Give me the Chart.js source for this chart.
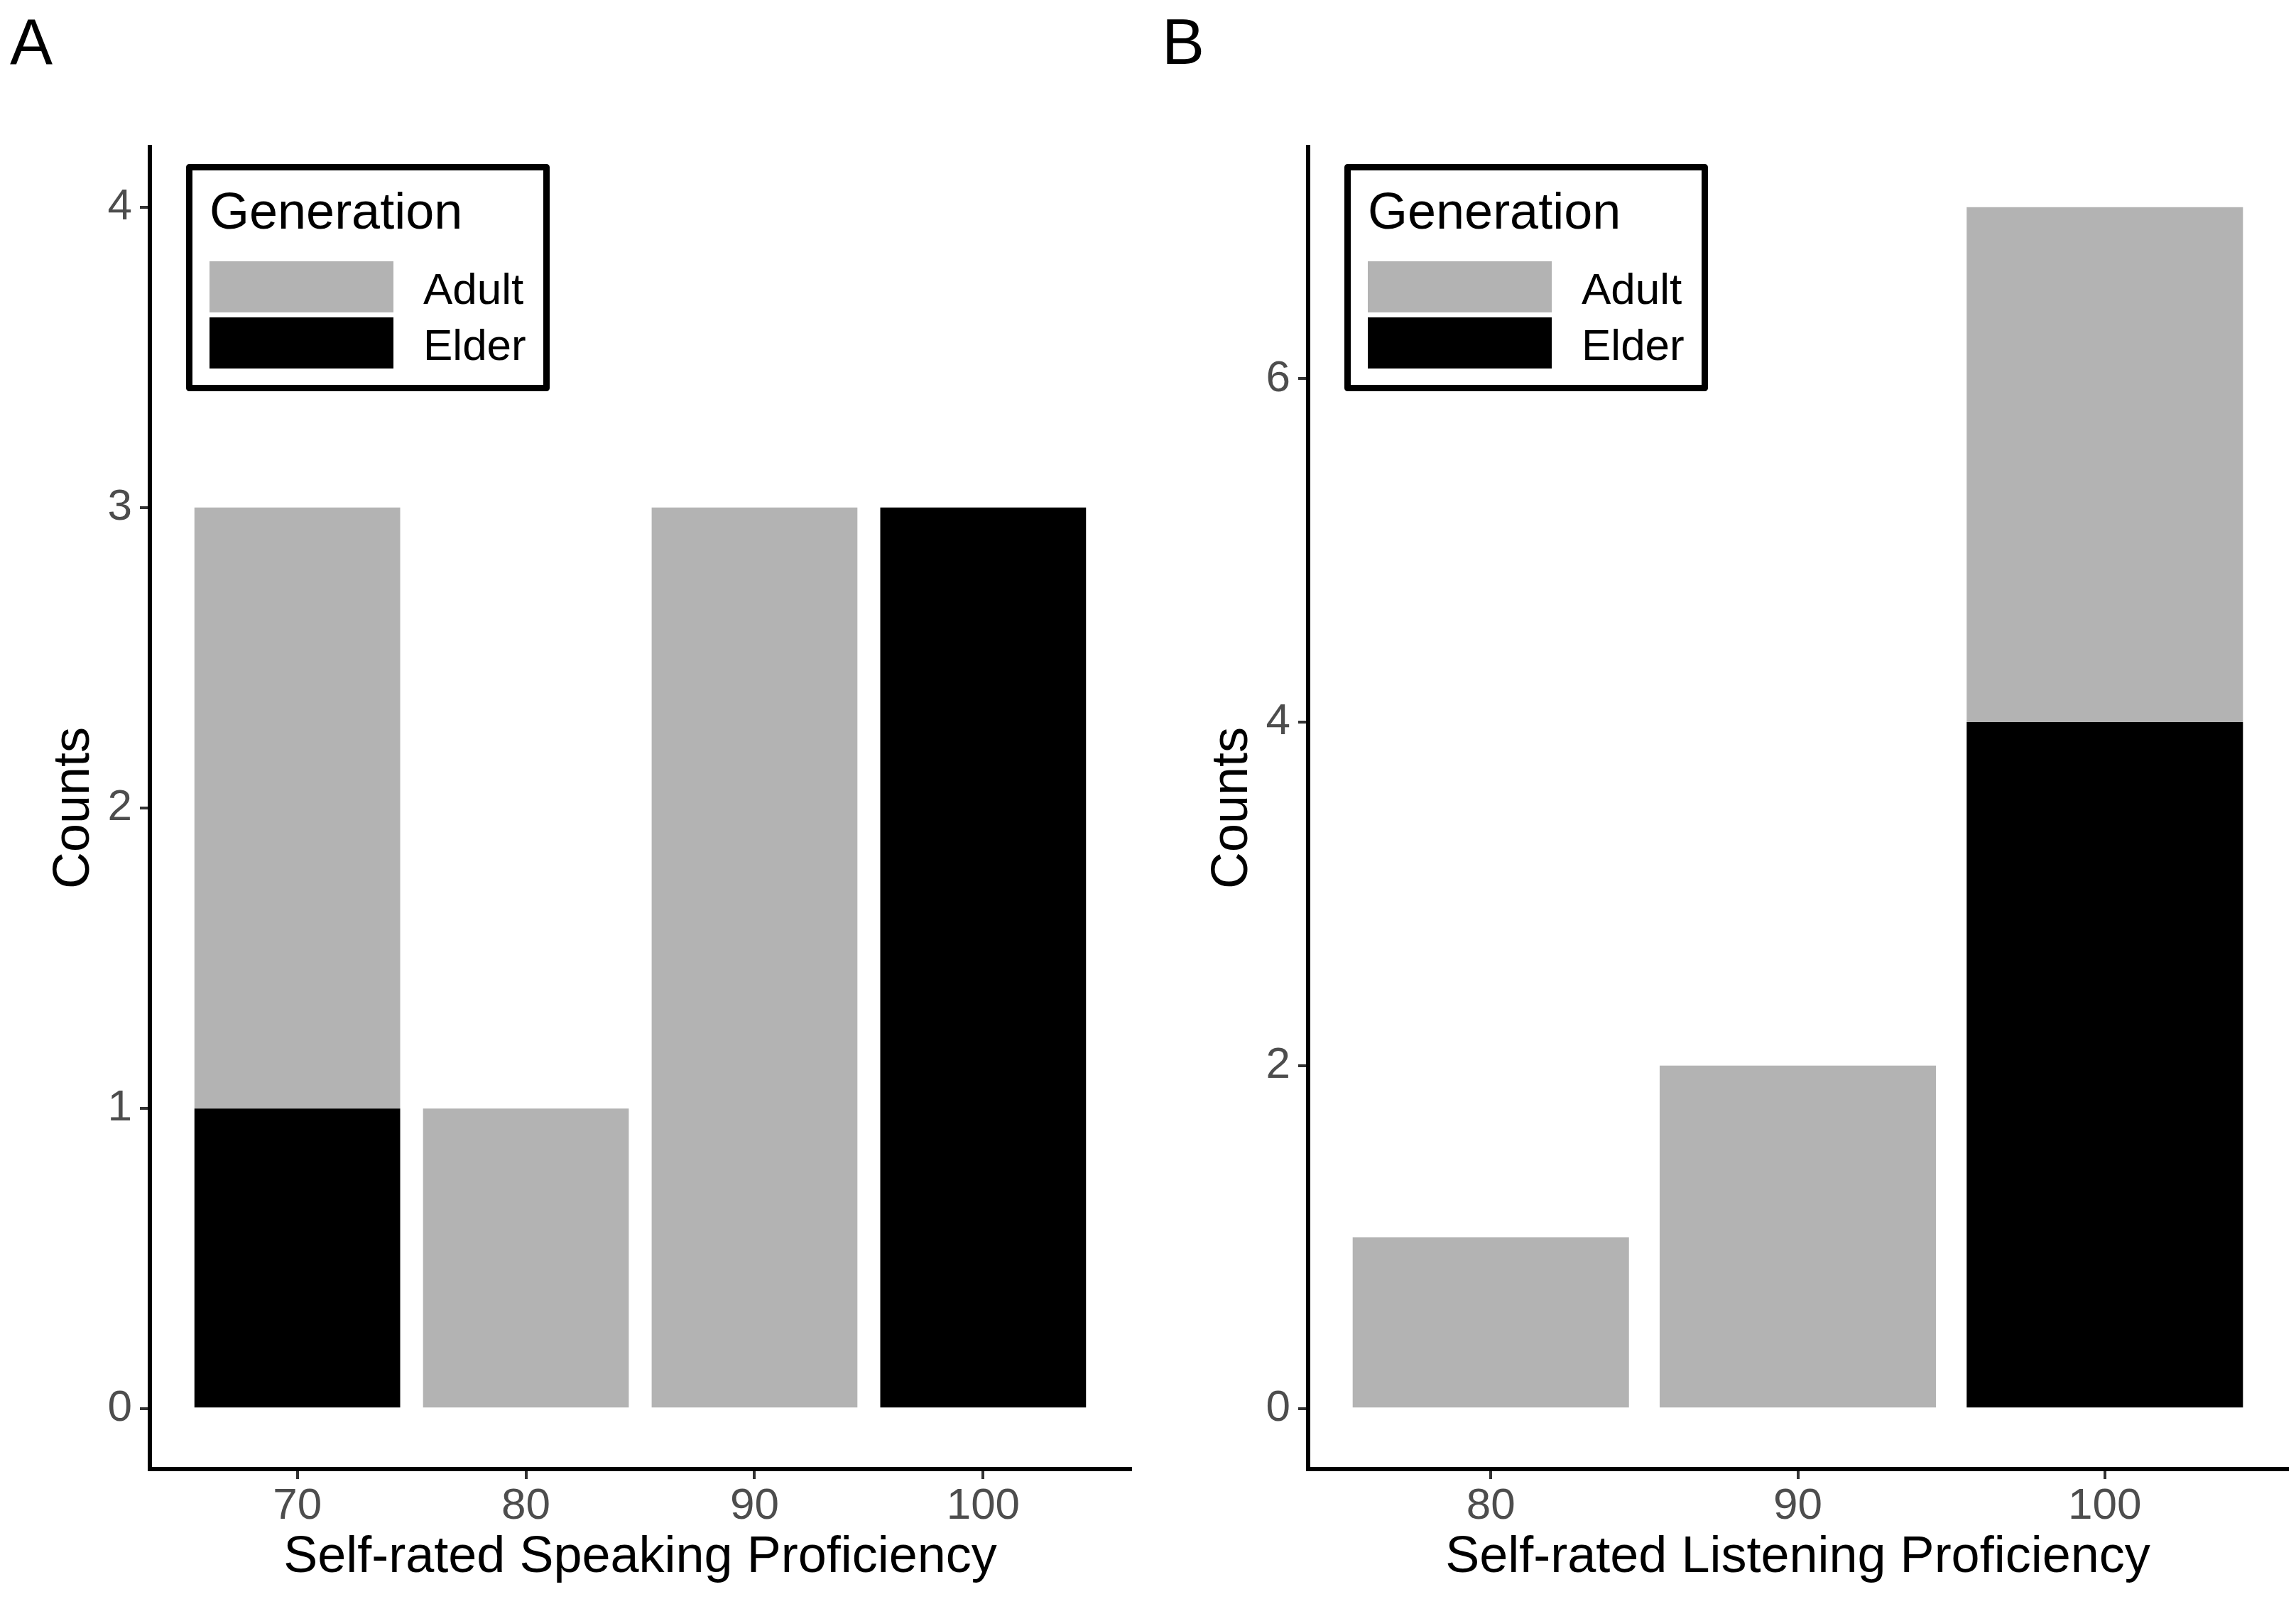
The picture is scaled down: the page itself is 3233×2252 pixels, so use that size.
<!DOCTYPE html>
<html>
<head>
<meta charset="utf-8">
<script src="https://cdn.jsdelivr.net/npm/chart.js@4.4.1/dist/chart.umd.min.js"></script>
<style>
  html, body { margin: 0; padding: 0; background: #fff; }
  body { width: 3233px; height: 2252px; position: relative; overflow: hidden; }
  canvas { position: absolute; top: 0; }
  #panelA { left: 0; }
  #panelB { left: 1631px; }
</style>
</head>
<body>
<canvas id="panelA" width="1616" height="2252"></canvas>
<canvas id="panelB" width="1602" height="2252"></canvas>
<script>
/* ~~~~~~~~~~ DATA ~~~~~~~~~~*/

const generations = ['Adult', 'Elder'];

// panel A
const speakingScores = [70, 80, 90, 100];
const speakingAdult = [2, 1, 3, null];
const speakingElder = [1, null, null, 3];
const speakingTicks = [0, 1, 2, 3, 4];
const speakingLimits = [0, 4];

// panel B
const listeningScores = [80, 90, 100];
const listeningAdult = [1, 2, 3];
const listeningElder = [null, null, 4];
const listeningTicks = [0, 2, 4, 6];
const listeningLimits = [0, 7];

/* ~~~~~~~~~~ STYLE ~~~~~~~~~~*/

const FONT = '"Liberation Sans", Arial, Helvetica, sans-serif';
const adultGrey = '#B3B3B3';
const elderBlack = '#000000';

Chart.defaults.font.family = FONT;

// legend box + panel letter, drawn inside the plot like ggplot's legend.position
const panelDecor = {
  id: 'panelDecor',
  afterDraw(chart, args, o) {
    const { ctx, chartArea } = chart;
    ctx.save();
    ctx.textAlign = 'left';
    ctx.textBaseline = 'alphabetic';

    ctx.fillStyle = '#000';
    ctx.font = '90px ' + FONT;
    ctx.fillText(o.tag, o.tagX, 90);

    const bx = chartArea.left + 51;
    const by = chartArea.top + 24;
    const bw = 512, bh = 320, lw = 9;
    ctx.fillStyle = '#fff';
    ctx.fillRect(bx, by, bw, bh);
    ctx.strokeStyle = '#000';
    ctx.lineWidth = lw;
    ctx.lineJoin = 'round';
    ctx.strokeRect(bx + lw / 2, by + lw / 2, bw - lw, bh - lw);

    ctx.fillStyle = '#000';
    ctx.font = '72px ' + FONT;
    ctx.fillText(o.title, bx + 33, by + 91);

    // legend lists Adult then Elder (reverse of stacking order)
    const items = chart.data.datasets.slice().reverse();
    items.forEach((ds, i) => {
      const ky = by + 137 + i * 79;
      ctx.fillStyle = ds.backgroundColor;
      ctx.fillRect(bx + 33, ky, 259, 72);
      ctx.fillStyle = '#000';
      ctx.font = '62px ' + FONT;
      ctx.fillText(ds.label, bx + 334, ky + 59.5);
    });
    ctx.restore();
  }
};

/* ~~~~~~~~~~ CHART FUNCTIONS ~~~~~~~~~~*/

const toPoints = (xs, ys) =>
  xs.map((x, i) => ({ x: x, y: ys[i] })).filter(p => p.y !== null);

function makePanel(canvasId, cfg) {
  // ggplot-style continuous expansion: bars are 9 wide, 5% padding on each side
  const lo = Math.min(...cfg.scores) - 4.5;
  const hi = Math.max(...cfg.scores) + 4.5;
  const xPad = (hi - lo) * 0.05;
  const yPad = (cfg.limits[1] - cfg.limits[0]) * 0.05;

  const ctx = document.getElementById(canvasId).getContext('2d');

  return new Chart(ctx, {
    type: 'bar',
    data: {
      datasets: [
        {
          label: generations[1],
          data: toPoints(cfg.scores, cfg.elder),
          backgroundColor: elderBlack,
          borderWidth: 0,
        },
        {
          label: generations[0],
          data: toPoints(cfg.scores, cfg.adult),
          backgroundColor: adultGrey,
          borderWidth: 0,
        },
      ],
    },
    options: {
      responsive: false,
      animation: false,
      devicePixelRatio: 1,
      barPercentage: 0.9,
      categoryPercentage: 1.0,
      layout: { padding: { left: 0, top: 207, right: cfg.rightPad, bottom: 0 } },
      plugins: {
        legend: { display: false },
        tooltip: { enabled: false },
        panelDecor: { tag: cfg.tag, tagX: cfg.tagX, title: 'Generation' },
      },
      scales: {
        x: {
          type: 'linear',
          stacked: true,
          offset: false,
          min: lo - xPad,
          max: hi + xPad,
          afterBuildTicks: (s) => { s.ticks = cfg.scores.map(v => ({ value: v })); },
          afterFit: (s) => { s.height = 183; },
          grid: { display: true, offset: false, drawOnChartArea: false, drawTicks: true, tickLength: 14, color: '#333333', lineWidth: 4 },
          border: { display: true, color: '#000', width: 6 },
          ticks: {
            color: '#4D4D4D',
            font: { size: 62, family: FONT },
            padding: 2,
            maxRotation: 0,
            autoSkip: false,
            callback: (v) => String(v),
          },
          title: {
            display: true,
            text: cfg.xTitle,
            color: '#000',
            font: { size: 72, family: FONT },
            padding: { top: 0, bottom: 15 },
          },
        },
        y: {
          type: 'linear',
          stacked: true,
          min: cfg.limits[0] - yPad,
          max: cfg.limits[1] + yPad,
          afterBuildTicks: (s) => { s.ticks = cfg.yTicks.map(v => ({ value: v })); },
          afterFit: (s) => { s.width = 211; },
          grid: { display: true, drawOnChartArea: false, drawTicks: true, tickLength: 14, color: '#333333', lineWidth: 4 },
          border: { display: true, color: '#000', width: 6 },
          ticks: {
            color: '#4D4D4D',
            font: { size: 62, family: FONT },
            padding: 11,
            autoSkip: false,
            callback: (v) => String(v),
          },
          title: {
            display: true,
            text: 'Counts',
            color: '#000',
            font: { size: 72, family: FONT },
            padding: { top: 62, bottom: 0 },
          },
        },
      },
    },
    plugins: [panelDecor],
  });
}

/* ~~~~~~~~~~ INIT ~~~~~~~~~~*/

makePanel('panelA', {
  tag: 'A', tagX: 14, rightPad: 24,
  scores: speakingScores, adult: speakingAdult, elder: speakingElder,
  yTicks: speakingTicks, limits: speakingLimits,
  xTitle: 'Self-rated Speaking Proficiency',
});

makePanel('panelB', {
  tag: 'B', tagX: 5, rightPad: 12,
  scores: listeningScores, adult: listeningAdult, elder: listeningElder,
  yTicks: listeningTicks, limits: listeningLimits,
  xTitle: 'Self-rated Listening Proficiency',
});
</script>
</body>
</html>
